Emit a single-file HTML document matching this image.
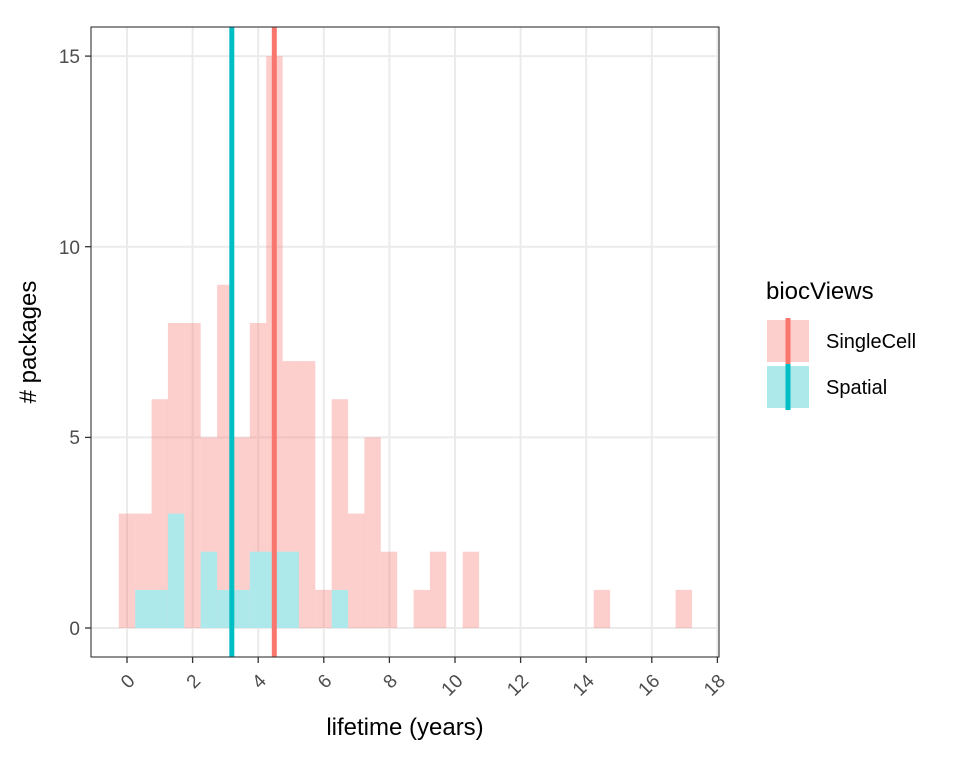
<!DOCTYPE html>
<html><head><meta charset="utf-8"><style>body{margin:0;background:#fff}svg{display:block}</style></head>
<body>
<svg width="960" height="768" viewBox="0 0 960 768" xmlns="http://www.w3.org/2000/svg" font-family="Liberation Sans, sans-serif">
<rect width="960" height="768" fill="#fff"/>
<g stroke="#ebebeb" stroke-width="2">
<line x1="91" x2="719" y1="628" y2="628"/><line x1="91" x2="719" y1="437.4" y2="437.4"/><line x1="91" x2="719" y1="246.7" y2="246.7"/><line x1="91" x2="719" y1="56.1" y2="56.1"/>
<line x1="127" x2="127" y1="27" y2="657"/><line x1="192.6" x2="192.6" y1="27" y2="657"/><line x1="258.2" x2="258.2" y1="27" y2="657"/><line x1="323.8" x2="323.8" y1="27" y2="657"/><line x1="389.4" x2="389.4" y1="27" y2="657"/><line x1="455" x2="455" y1="27" y2="657"/><line x1="520.6" x2="520.6" y1="27" y2="657"/><line x1="586.2" x2="586.2" y1="27" y2="657"/><line x1="651.8" x2="651.8" y1="27" y2="657"/><line x1="717.4" x2="717.4" y1="27" y2="657"/>
</g>
<g fill="#F8766D" fill-opacity="0.35">
<rect x="118.8" y="513.6" width="16.4" height="114.4"/>
<rect x="135.2" y="513.6" width="16.4" height="114.4"/>
<rect x="151.6" y="399.2" width="16.4" height="228.8"/>
<rect x="167.9" y="323" width="16.4" height="305"/>
<rect x="184.3" y="323" width="16.4" height="305"/>
<rect x="200.7" y="437.4" width="16.4" height="190.6"/>
<rect x="217.1" y="284.8" width="16.4" height="343.2"/>
<rect x="233.4" y="437.4" width="16.4" height="190.6"/>
<rect x="249.8" y="323" width="16.4" height="305"/>
<rect x="266.2" y="56.1" width="16.4" height="571.9"/>
<rect x="282.6" y="361.1" width="16.4" height="266.9"/>
<rect x="298.9" y="361.1" width="16.4" height="266.9"/>
<rect x="315.3" y="589.9" width="16.4" height="38.1"/>
<rect x="331.7" y="399.2" width="16.4" height="228.8"/>
<rect x="348.1" y="513.6" width="16.4" height="114.4"/>
<rect x="364.4" y="437.4" width="16.4" height="190.6"/>
<rect x="380.8" y="551.7" width="16.4" height="76.3"/>
<rect x="413.6" y="589.9" width="16.4" height="38.1"/>
<rect x="429.9" y="551.7" width="16.4" height="76.3"/>
<rect x="462.7" y="551.7" width="16.4" height="76.3"/>
<rect x="593.7" y="589.9" width="16.4" height="38.1"/>
<rect x="675.6" y="589.9" width="16.4" height="38.1"/>
</g>
<g fill="#ade8ea">
<rect x="135.2" y="589.9" width="32.7" height="38.1"/>
<rect x="167.9" y="513.6" width="16.4" height="114.4"/>
<rect x="200.7" y="551.7" width="16.4" height="76.3"/>
<rect x="217.1" y="589.9" width="32.7" height="38.1"/>
<rect x="249.8" y="551.7" width="49.1" height="76.3"/>
<rect x="331.7" y="589.9" width="16.4" height="38.1"/>
</g>
<rect x="229.3" y="27" width="5" height="630" fill="#00BFC4"/>
<rect x="271.8" y="27" width="5" height="630" fill="#F8766D"/>
<rect x="91" y="27" width="628" height="630" fill="none" stroke="#333" stroke-width="1.1"/>
<g stroke="#333" stroke-width="1.3">
<line x1="85" x2="91" y1="628" y2="628"/><line x1="85" x2="91" y1="437.4" y2="437.4"/><line x1="85" x2="91" y1="246.7" y2="246.7"/><line x1="85" x2="91" y1="56.1" y2="56.1"/>
<line x1="127" x2="127" y1="657" y2="663"/><line x1="192.6" x2="192.6" y1="657" y2="663"/><line x1="258.2" x2="258.2" y1="657" y2="663"/><line x1="323.8" x2="323.8" y1="657" y2="663"/><line x1="389.4" x2="389.4" y1="657" y2="663"/><line x1="455" x2="455" y1="657" y2="663"/><line x1="520.6" x2="520.6" y1="657" y2="663"/><line x1="586.2" x2="586.2" y1="657" y2="663"/><line x1="651.8" x2="651.8" y1="657" y2="663"/><line x1="717.4" x2="717.4" y1="657" y2="663"/>
</g>
<g fill="#4d4d4d" font-size="19" text-anchor="end">
<text x="80" y="635">0</text><text x="80" y="444">5</text><text x="80" y="254">10</text><text x="80" y="63">15</text>
</g>
<g fill="#4d4d4d" font-size="19" text-anchor="end">
<text transform="translate(136,682) rotate(-45)">0</text>
<text transform="translate(201.6,682) rotate(-45)">2</text>
<text transform="translate(267.2,682) rotate(-45)">4</text>
<text transform="translate(332.8,682) rotate(-45)">6</text>
<text transform="translate(398.4,682) rotate(-45)">8</text>
<text transform="translate(464,682) rotate(-45)">10</text>
<text transform="translate(529.6,682) rotate(-45)">12</text>
<text transform="translate(595.2,682) rotate(-45)">14</text>
<text transform="translate(660.8,682) rotate(-45)">16</text>
<text transform="translate(726.4,682) rotate(-45)">18</text>
</g>
<text x="405" y="735" font-size="24" text-anchor="middle" fill="#000">lifetime (years)</text>
<text transform="translate(36,342) rotate(-90)" font-size="24" text-anchor="middle" fill="#000"># packages</text>
<text x="766" y="299" font-size="24" fill="#000">biocViews</text>
<rect x="767" y="320" width="42" height="42" fill="#F8766D" fill-opacity="0.35"/>
<rect x="767" y="366" width="42" height="42" fill="#ade8ea"/>
<rect x="785.5" y="318" width="5" height="46" fill="#F8766D"/>
<rect x="785.5" y="364" width="5" height="46" fill="#00BFC4"/>
<text x="826" y="348" font-size="20" fill="#000">SingleCell</text>
<text x="826" y="394" font-size="20" fill="#000">Spatial</text>
</svg>
</body></html>
